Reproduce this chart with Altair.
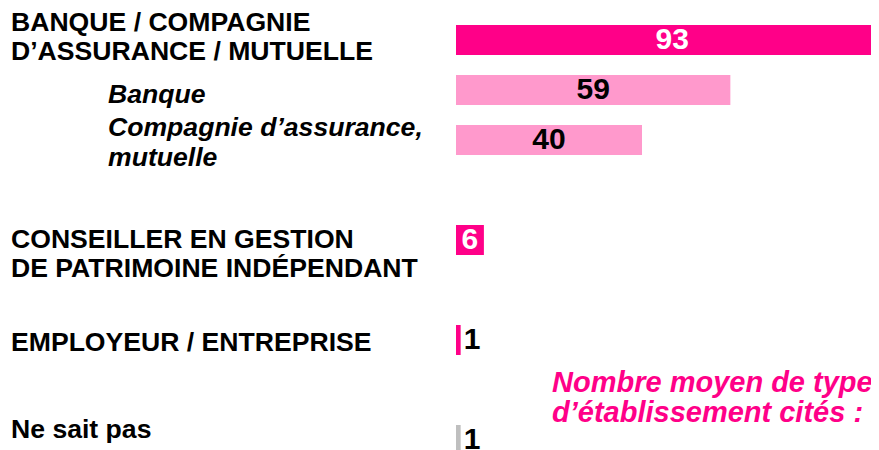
import altair as alt
import pandas as pd

# ---- data ----
categories = [
    "BANQUE / COMPAGNIE\nD’ASSURANCE / MUTUELLE",
    "Banque",
    "Compagnie d’assurance,\nmutuelle",
    "CONSEILLER EN GESTION\nDE PATRIMOINE INDÉPENDANT",
    "EMPLOYEUR / ENTREPRISE",
    "Ne sait pas",
]
values = [93, 59, 40, 6, 1, 1]
levels = ["total", "detail", "detail", "total", "total", "nsp"]
note_lines = ["Nombre moyen de types", "d’établissement cités : 1"]

# ---- layout (row slots, label nudges) ----
rows = [0, 1, 2, 4, 6, 8]
label_shift = [-0.18, 0.26, -0.08, 0.16, 0.22, -0.04]

PINK = "#FF0088"
LIGHT = "#FF99CC"
GREY = "#BFBFBF"
FONT = "Liberation Sans"

PX = 4.65          # pixels per percentage point
LEFT = 448
W, H = 415, 442

df = pd.DataFrame({
    "label": categories,
    "value": values,
    "level": levels,
    "row": rows,
    "shift": label_shift,
})

xs = alt.Scale(domain=[0, W / PX], nice=False, zero=False)
ys = alt.Scale(domain=[-0.64, -0.64 + H / 50], nice=False, zero=False, reverse=True)

base = alt.Chart(df).transform_calculate(
    y0="datum.row - 0.3",
    y1="datum.row + 0.3",
    zero="0",
    mid="datum.value / 2",
    ly="datum.row + datum.shift",
)

bars = base.mark_rect(clip=True).encode(
    x=alt.X("value:Q", scale=xs, axis=None),
    x2="zero:Q",
    y=alt.Y("y0:Q", scale=ys, axis=None),
    y2="y1:Q",
    color=alt.Color(
        "level:N",
        scale=alt.Scale(domain=["total", "detail", "nsp"], range=[PINK, LIGHT, GREY]),
        legend=None,
    ),
)

inside = base.transform_filter("datum.value >= 5").mark_text(
    font=FONT, fontSize=30, fontWeight="bold", baseline="middle", align="center", clip=True
).encode(
    x=alt.X("mid:Q", scale=xs),
    y=alt.Y("row:Q", scale=ys),
    text="value:Q",
    color=alt.condition("datum.level == 'total'", alt.value("white"), alt.value("black")),
)

outside = base.transform_filter("datum.value < 5").mark_text(
    font=FONT, fontSize=30, fontWeight="bold", baseline="middle", align="left", dx=3,
    color="black", clip=True,
).encode(
    x=alt.X("value:Q", scale=xs),
    y=alt.Y("row:Q", scale=ys),
    text="value:Q",
)

main_labels = base.transform_filter("datum.level != 'detail'").mark_text(
    font=FONT, fontSize=26.6, fontWeight="bold", baseline="alphabetic", align="left",
    lineBreak="\n", lineHeight=29, color="black",
).encode(
    x=alt.value(11 - 8 - LEFT),
    y=alt.Y("ly:Q", scale=ys),
    text="label:N",
)

sub_labels = base.transform_filter("datum.level == 'detail'").mark_text(
    font=FONT, fontSize=26.6, fontWeight="bold", fontStyle="italic", baseline="alphabetic",
    align="left", lineBreak="\n", lineHeight=30, color="black",
).encode(
    x=alt.value(108 - 8 - LEFT),
    y=alt.Y("ly:Q", scale=ys),
    text="label:N",
)

note = alt.Chart(pd.DataFrame({"t": ["\n".join(note_lines)]})).mark_text(
    font=FONT, fontSize=29, fontWeight="bold", fontStyle="italic", baseline="alphabetic",
    align="left", lineBreak="\n", lineHeight=30, color=PINK, clip=True,
).encode(
    x=alt.value(552 - 8 - LEFT),
    y=alt.value(392 - 8),
    text="t:N",
)

chart = alt.layer(bars, inside, outside, main_labels, sub_labels, note).properties(
    width=W,
    height=H,
    autosize=alt.AutoSizeParams(type="none"),
    padding={"left": LEFT, "top": 0, "right": 0, "bottom": 0},
).configure_view(stroke=None)

chart.save("out.html", embed_options={"renderer": "svg", "actions": False})
